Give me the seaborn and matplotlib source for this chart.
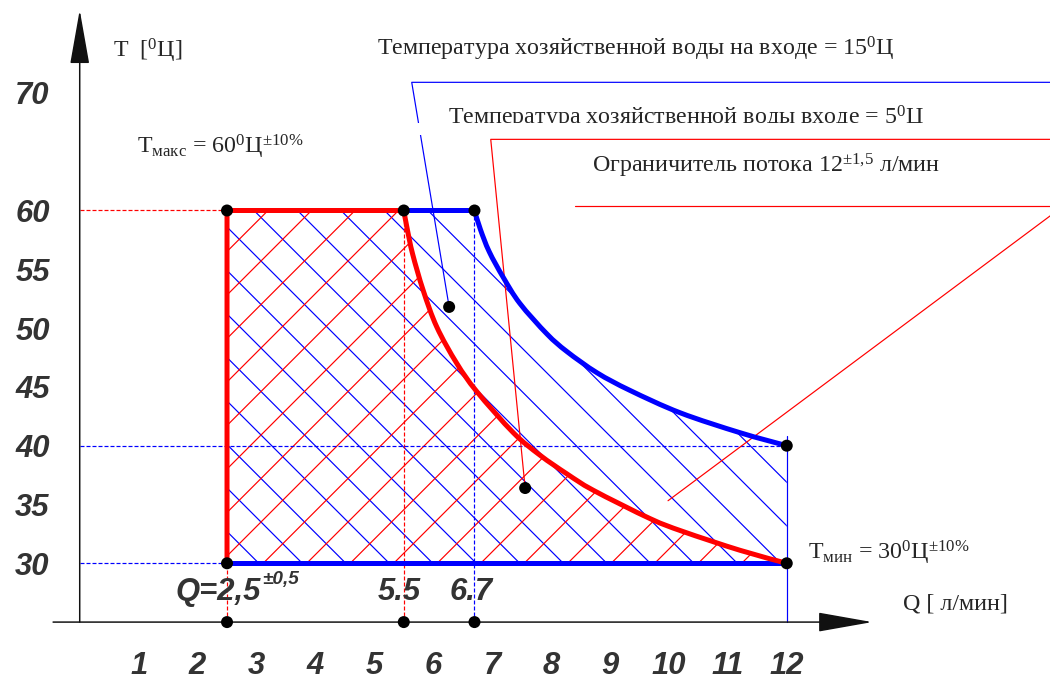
import matplotlib
matplotlib.use("Agg")
import matplotlib.pyplot as plt
from matplotlib.patches import Rectangle, PathPatch
from matplotlib.path import Path
import seaborn as sns

# ---------------- data ----------------
q_ticks = [1, 2, 3, 4, 5, 6, 7, 8, 9, 10, 11, 12]
q_tick_labels = [str(v) for v in q_ticks]
t_ticks = [30, 35, 40, 45, 50, 55, 60, 65, 70]
t_tick_labels = ["30", "35", "40", "45", "50", "55", "60", "", "70"]

q_min, q_red_top, q_blue_top, q_max = 2.5, 5.5, 6.7, 12.0
t_min, t_max, t_blue_end, t_axis = 30.0, 60.0, 40.0, 25.0

# curve for inlet water 15 C (blue)
blue_q = [6.70, 6.80, 6.95, 7.19, 7.47, 7.93, 8.27, 8.78, 9.34, 10.19, 11.21, 12.0]
blue_t = [60.0, 58.4, 56.5, 54.3, 52.1, 49.5, 48.0, 46.2, 44.7, 42.8, 41.1, 40.0]
# curve for inlet water 5 C (red)
red_q = [5.50, 5.56, 5.65, 5.83, 6.06, 6.40, 6.74, 7.36, 7.81, 8.27, 8.72, 9.68, 10.24, 11.21, 12.0]
red_t = [60.0, 58.4, 56.3, 53.2, 50.1, 47.0, 44.6, 41.1, 39.2, 37.6, 36.2, 33.8, 32.7, 31.1, 30.0]

dot_q = [2.5, 5.5, 6.7, 12.0, 2.5, 12.0, 2.5, 5.5, 6.7, 6.27, 7.56]
dot_t = [60.0, 60.0, 60.0, 40.0, 30.0, 30.0, 25.0, 25.0, 25.0, 51.8, 36.4]

# leader lines (annotation pointers)
lead_blue_q = [6.27, 5.635, 16.6]
lead_blue_t = [51.8, 70.9, 70.9]
lead_red_q = [7.56, 6.976, 16.6]
lead_red_t = [36.4, 66.05, 66.05]
lead_lim_q = [9.985, 16.695]
lead_lim_t = [35.32, 60.38]
lim_line_q = [8.406, 16.6]
lim_line_t = [60.38, 60.38]

# ---------------- style ----------------
DPI = 261
PT = DPI / 72.0  # pixels per point
sns.set_style("white")
plt.rcParams["font.family"] = ["Liberation Serif", "DejaVu Serif"]
plt.rcParams["mathtext.fontset"] = "custom"
plt.rcParams["mathtext.rm"] = "Liberation Serif"
plt.rcParams["mathtext.it"] = "Liberation Serif:italic"
plt.rcParams["mathtext.bf"] = "Liberation Serif:bold"
plt.rcParams["mathtext.default"] = "rm"
plt.rcParams["hatch.linewidth"] = 1.2 / PT
plt.rcParams["lines.scale_dashes"] = False

BLUE = "#0000ff"
RED = "#ff0000"
GREY = "#333333"
thick = 5.0 / PT
thin = 1.2 / PT
dash = (0, (4.0 / PT, 2.0 / PT))
serif_fs = 24 / PT
num_fs = 31 / PT
numfont = dict(family="Liberation Sans", weight="bold", style="italic")


def smooth_segments(qs, ts):
    """Cubic Bezier segments (Catmull-Rom) passing through the read points."""
    pts = list(zip(qs, ts))
    n = len(pts)
    verts, codes = [], []
    for i in range(n - 1):
        p0 = pts[i - 1] if i > 0 else pts[i]
        p1, p2 = pts[i], pts[i + 1]
        p3 = pts[i + 2] if i + 2 < n else pts[i + 1]
        c1 = (p1[0] + (p2[0] - p0[0]) / 6.0, p1[1] + (p2[1] - p0[1]) / 6.0)
        c2 = (p2[0] - (p3[0] - p1[0]) / 6.0, p2[1] - (p3[1] - p1[1]) / 6.0)
        verts += [c1, c2, p2]
        codes += [Path.CURVE4] * 3
    return verts, codes


fig = plt.figure(figsize=(1050 / DPI, 681 / DPI), dpi=DPI)
ax = fig.add_axes([0, 0, 1, 1])
ax.set_xlim(-1.353, 16.468)
ax.set_ylim(19.99, 77.9)
for s in ax.spines.values():
    s.set_visible(False)
ax.spines["left"].set_position(("data", 0))
ax.spines["bottom"].set_position(("data", t_axis))

# ticks
ax.set_xticks(q_ticks, labels=q_tick_labels, **numfont)
ax.set_yticks(t_ticks, labels=t_tick_labels, **numfont)
ax.tick_params(axis="x", direction="out", length=18 / PT, width=1.5 / PT, color="#222222",
               pad=11 / PT, labelsize=num_fs, labelcolor=GREY)
ax.tick_params(axis="y", direction="out", length=26 / PT, width=1.5 / PT, color="#222222",
               pad=4 / PT, labelsize=num_fs, labelcolor=GREY)
ax.grid(False)

# axes with arrows
arrow_kw = dict(arrowstyle="-|>,head_length=%f,head_width=%f" % (48 / PT / 10, 8.5 / PT / 10),
                mutation_scale=10, lw=1.5 / PT, color="#111111", shrinkA=0, shrinkB=0)
ax.annotate("", xy=(13.45, t_axis), xytext=(-0.452, t_axis), arrowprops=arrow_kw, zorder=3)
ax.annotate("", xy=(0, 77.05), xytext=(0, t_axis), arrowprops=arrow_kw, zorder=3)

# curve paths
bv, bc = smooth_segments(blue_q, blue_t)
rv, rc = smooth_segments(red_q, red_t)

# hatched regions
blue_reg = Path([(q_min, t_min), (q_min, t_max), (blue_q[0], blue_t[0])] + bv
                + [(q_max, t_min), (q_min, t_min)],
                [Path.MOVETO, Path.LINETO, Path.LINETO] + bc + [Path.LINETO, Path.CLOSEPOLY])
red_reg = Path([(q_min, t_min), (q_min, t_max), (red_q[0], red_t[0])] + rv
               + [(q_min, t_min)],
               [Path.MOVETO, Path.LINETO, Path.LINETO] + rc + [Path.CLOSEPOLY])
ax.add_patch(PathPatch(blue_reg, facecolor="none", edgecolor=BLUE, lw=0, hatch="\\\\", zorder=1))
ax.add_patch(PathPatch(red_reg, facecolor="none", edgecolor=RED, lw=0, hatch="//", zorder=1.1))

# dashed guide lines
ax.plot([0, q_min], [t_max, t_max], color=RED, lw=thin, ls=dash, zorder=2)
ax.plot([q_min, q_min], [t_axis, t_min], color=RED, lw=thin, ls=dash, zorder=2)
ax.plot([q_red_top, q_red_top], [t_axis, t_max], color=RED, lw=thin, ls=dash, zorder=2)
ax.plot([0, q_max], [t_blue_end, t_blue_end], color=BLUE, lw=thin, ls=dash, zorder=2)
ax.plot([0, q_min], [t_min, t_min], color=BLUE, lw=thin, ls=dash, zorder=2)
ax.plot([q_blue_top, q_blue_top], [t_axis, t_max], color=BLUE, lw=thin, ls=dash, zorder=2)
ax.plot([q_max, q_max], [t_axis, t_blue_end + 0.8], color=BLUE, lw=thin, zorder=2)

# leader lines
ax.plot(lead_blue_q, lead_blue_t, color=BLUE, lw=thin, zorder=2)
ax.plot(lead_red_q, lead_red_t, color=RED, lw=thin, zorder=2)
ax.plot(lead_lim_q, lead_lim_t, color=RED, lw=thin, zorder=2)
ax.plot(lim_line_q, lim_line_t, color=RED, lw=thin, zorder=2)

# thick boundary lines
ax.plot([q_min, q_max], [t_min, t_min], color=BLUE, lw=thick, solid_capstyle="butt", zorder=3)
blue_line = Path([(q_red_top, t_max), (blue_q[0], blue_t[0])] + bv,
                 [Path.MOVETO, Path.LINETO] + bc)
red_line = Path([(q_min, t_min), (q_min, t_max), (red_q[0], red_t[0])] + rv,
                [Path.MOVETO, Path.LINETO, Path.LINETO] + rc)
ax.add_patch(PathPatch(blue_line, fill=False, edgecolor=BLUE, lw=thick, capstyle="butt",
                       joinstyle="round", zorder=3))
ax.add_patch(PathPatch(red_line, fill=False, edgecolor=RED, lw=thick, capstyle="butt",
                       joinstyle="miter", zorder=3.5))

# dots
sns.scatterplot(x=dot_q, y=dot_t, color="black", s=(12 / PT) ** 2, edgecolor="none",
                ax=ax, zorder=6)
ax.set_xlabel("")
ax.set_ylabel("")

# texts
ax.text(0.565, 73.05, "T  [$^{0}$Ц]", fontsize=serif_fs, va="baseline", ha="left")
ax.text(0.97, 64.87, "T$_{\\mathrm{макс}}$ = 60$^{0}$Ц$^{\\pm10\\%}$", fontsize=serif_fs,
        va="baseline", ha="left")
ax.text(5.046, 73.22, "Температура хозяйственной воды на входе = 15$^{0}$Ц",
        fontsize=serif_fs, va="baseline", ha="left")
ax.text(6.25, 67.28, "Температура хозяйственной воды входе = 5$^{0}$Ц",
        fontsize=serif_fs, va="baseline", ha="left", zorder=4)
ax.add_patch(Rectangle((5.45, 66.42), 9.2, 1.05, facecolor="white", edgecolor="none", zorder=5))
ax.text(8.695, 63.2, "Ограничитель потока 12$^{\\pm1{,}5}$ л/мин", fontsize=serif_fs,
        va="baseline", ha="left")
ax.text(12.36, 30.28, "T$_{\\mathrm{мин}}$ = 30$^{0}$Ц$^{\\pm10\\%}$", fontsize=serif_fs,
        va="baseline", ha="left")
ax.text(13.97, 26.03, "Q [ л/мин]", fontsize=serif_fs, va="baseline", ha="left")

ax.text(1.62, 26.88, "Q=2,5", fontsize=num_fs, color=GREY, va="baseline", ha="left", **numfont)
ax.text(3.1, 28.2, "±0,5", fontsize=19 / PT, color=GREY, va="baseline", ha="left", **numfont)
ax.text(5.42, 26.88, "5.5", fontsize=num_fs, color=GREY, va="baseline", ha="center", **numfont)
ax.text(6.64, 26.88, "6.7", fontsize=num_fs, color=GREY, va="baseline", ha="center", **numfont)

fig.savefig("out.png", dpi=DPI, facecolor="white")
